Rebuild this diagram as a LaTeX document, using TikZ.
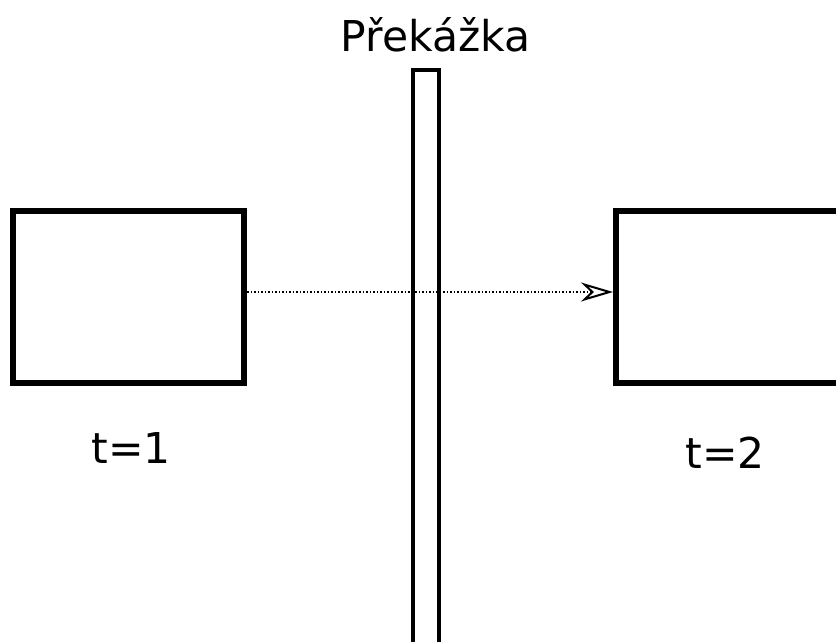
\documentclass[tikz,border=0pt]{standalone}
\usepackage{fontspec}
\setmainfont{DejaVu Sans}
\usetikzlibrary{arrows.meta}
\tikzset{
  frame/.style={draw=black, line width=6pt, minimum width=231pt, minimum height=172pt, inner sep=0pt},
  wall/.style={draw=black, line width=4pt, minimum width=26pt, minimum height=640pt, inner sep=0pt},
  lbl/.style={font=\fontsize{42.5}{50}\selectfont, inner sep=0pt},
}
\begin{document}
\begin{tikzpicture}[x=1pt, y=-1pt]
\useasboundingbox (0,0) rectangle (836,642);
\clip (0,0) rectangle (836,642);
\node[frame] (lbox) at (128.5,297) {};
\node[frame] (rbox) at (731.5,297) {};
\node[wall] (wall) at (426,390) {};
\node[lbl] (title) at (435.5,35) {Překážka};
\node[lbl] (t1) at (131,448) {t=1};
\node[lbl] (t2) at (725,453) {t=2};
\draw[dotted, line width=1.5pt, -{Stealth[open, length=32pt, width=19pt, inset=10pt, line width=2pt]}]
  ([yshift=5pt]lbox.east) -- ([yshift=5pt]rbox.west);
\end{tikzpicture}
\end{document}
